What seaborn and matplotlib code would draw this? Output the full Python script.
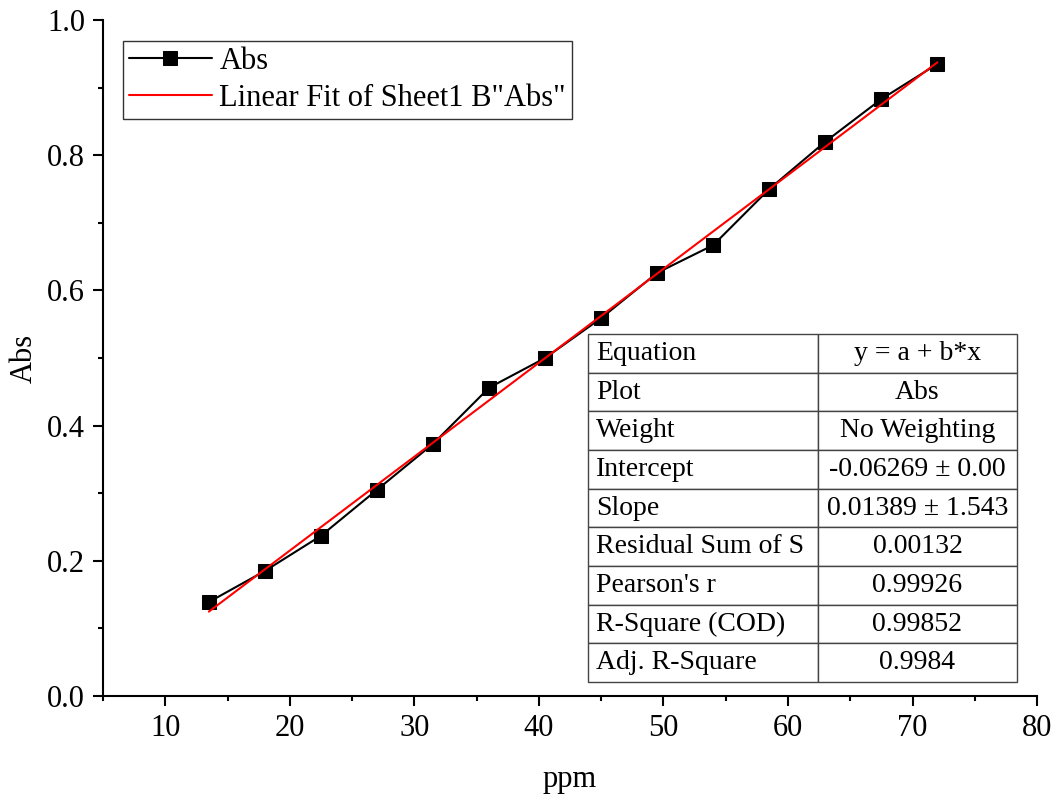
import matplotlib
matplotlib.use("Agg")
import matplotlib.pyplot as plt
import seaborn as sns
import numpy as np
import pandas as pd
from matplotlib.ticker import MultipleLocator

ppm = [13.5, 18, 22.5, 27, 31.5, 36, 40.5, 45, 49.5, 54, 58.5, 63, 67.5, 72]
abs_vals = [0.139, 0.185, 0.237, 0.305, 0.373, 0.456, 0.500, 0.559, 0.626, 0.667, 0.750, 0.820, 0.883, 0.935]
fit_intercept = -0.06269
fit_slope = 0.01389

table_labels = ["Equation", "Plot", "Weight", "Intercept", "Slope",
                "Residual Sum of S", "Pearson's r", "R-Square (COD)", "Adj. R-Square"]
table_values = ["y = a + b*x", "Abs", "No Weighting", "-0.06269 \u00b1 0.00",
                "0.01389 \u00b1 1.543", "0.00132", "0.99926", "0.99852", "0.9984"]

sns.set_theme(style="ticks")
plt.rcParams['font.family'] = ['Liberation Serif', 'DejaVu Serif']
plt.rcParams['text.color'] = 'black'
plt.rcParams['axes.labelcolor'] = 'black'
plt.rcParams['xtick.color'] = 'black'
plt.rcParams['ytick.color'] = 'black'

fig = plt.figure(figsize=(10.62, 8), dpi=100)
ax = fig.add_axes([0.097, 0.13, 0.8795, 0.845])

df = pd.DataFrame({"ppm": ppm, "Abs": abs_vals})
xf = np.array([min(ppm), max(ppm)])
fit_df = pd.DataFrame({"ppm": xf, "fit": fit_intercept + fit_slope * xf})

sns.lineplot(data=df, x="ppm", y="Abs", ax=ax, color="black", linewidth=1.5,
             marker="s", markersize=10, markeredgecolor="black", label="Abs", zorder=3)
sns.lineplot(data=fit_df, x="ppm", y="fit", ax=ax, color="red", linewidth=1.5,
             label='Linear Fit of Sheet1 B"Abs"', zorder=4)

ax.set_xlim(5, 80)
ax.set_ylim(0, 1.0)
ax.xaxis.set_minor_locator(MultipleLocator(5))
ax.yaxis.set_major_locator(MultipleLocator(0.2))
ax.yaxis.set_minor_locator(MultipleLocator(0.1))
ax.set_xticks(np.arange(10, 81, 10))
ax.set_xlabel("ppm", fontsize=22, labelpad=16)
ax.set_ylabel("Abs", fontsize=22, labelpad=6)
ax.tick_params(axis="both", which="major", direction="out", length=7, width=1.5, labelsize=22, pad=6)
ax.tick_params(axis="both", which="minor", direction="out", length=3.5, width=1.5)
for s in ["top", "right"]:
    ax.spines[s].set_visible(False)
for s in ["left", "bottom"]:
    ax.spines[s].set_linewidth(1.5)
    ax.spines[s].set_color("black")

leg = ax.legend(loc="upper left", bbox_to_anchor=(0.0214, 0.969), fontsize=22, frameon=True,
                fancybox=False, edgecolor="black", handlelength=2.7, borderpad=0.2,
                labelspacing=0.25, handletextpad=0.25, borderaxespad=0)
leg.get_frame().set_linewidth(1.0)

cell_text = [[l, v] for l, v in zip(table_labels, table_values)]
tbl = ax.table(cellText=cell_text, colWidths=[0.246, 0.214],
               bbox=[0.519, 0.0207, 0.460, 0.5148], zorder=5)
tbl.auto_set_font_size(False)
for (r, c), cell in tbl.get_celld().items():
    cell.set_edgecolor("#444444")
    cell.set_linewidth(1.0)
    cell.set_facecolor("white")
    cell.get_text().set_fontsize(20)
    cell.get_text().set_color("black")
    if c == 0:
        cell.get_text().set_ha("left")
        cell.PAD = 0.035
    else:
        cell.get_text().set_ha("center")

fig.savefig("out.png", dpi=100)
